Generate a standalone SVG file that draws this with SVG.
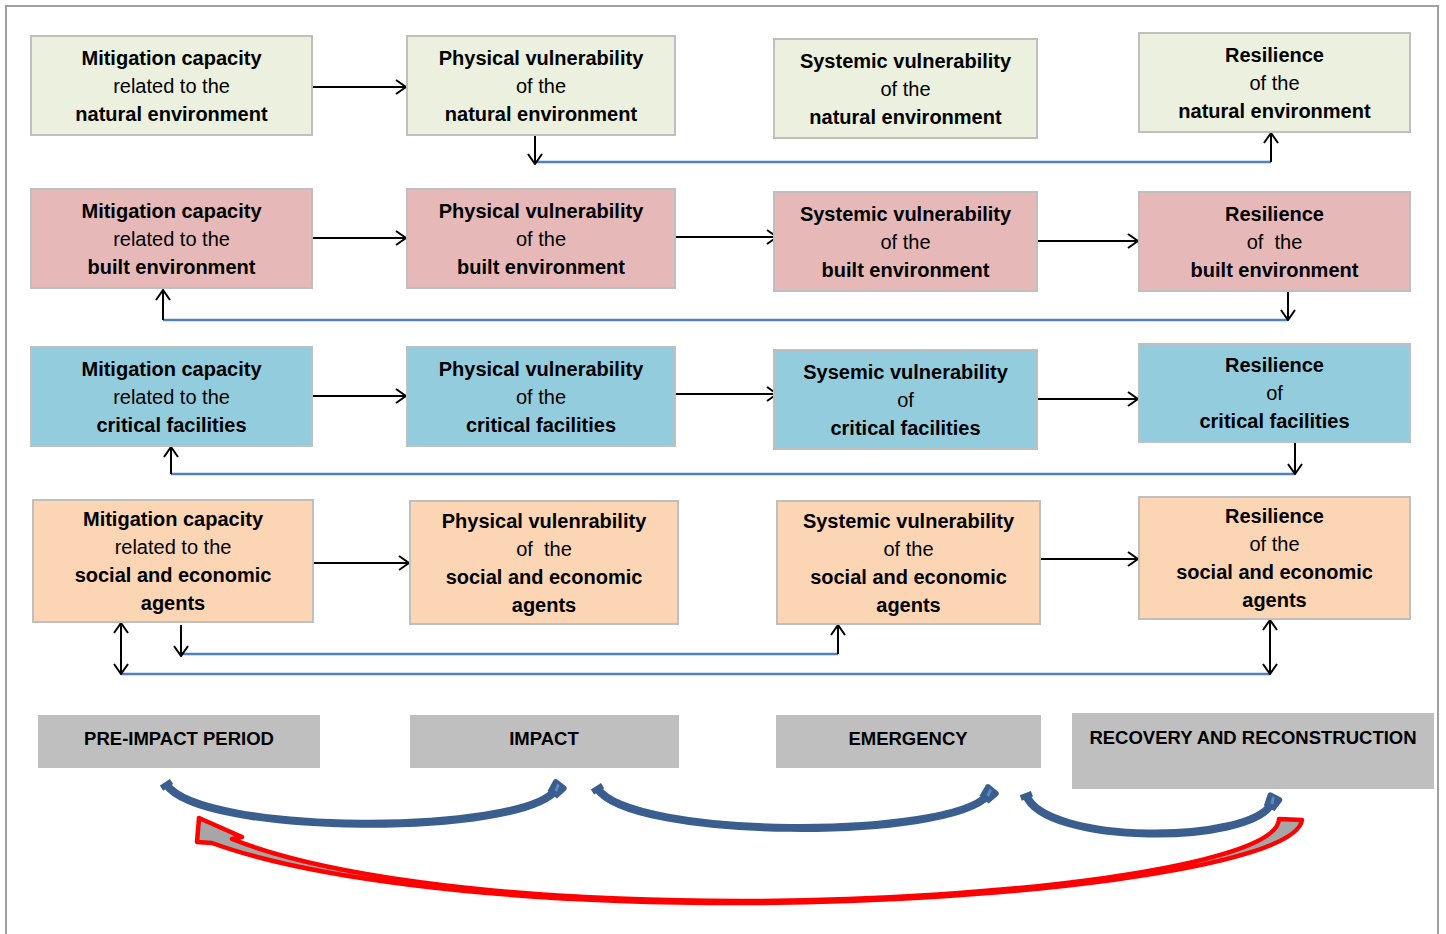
<svg xmlns="http://www.w3.org/2000/svg" width="1446" height="934" viewBox="0 0 1446 934">
<style>
.b{stroke:#BFBFBF;stroke-width:2}
.g{fill:#EBF1DE}.p{fill:#E6B9B8}.c{fill:#93CDDD}.o{fill:#FCD5B5}
.ph{fill:#BFBFBF}
text{font-family:"Liberation Sans",Arial,sans-serif;font-size:20px;fill:#000;text-anchor:middle}
.bd{font-weight:bold}
.pt{font-weight:bold;font-size:18.5px}
.ar{fill:none;stroke:#000;stroke-width:2;marker-end:url(#ah)}
.da{fill:none;stroke:#000;stroke-width:2;marker-end:url(#ah);marker-start:url(#ah)}
.bl{fill:none;stroke:#4F81BD;stroke-width:2.5}
.cv{fill:none;stroke:#3A5F8E;stroke-width:8;marker-end:url(#blk);marker-start:url(#bst)}
</style>
<defs>
<marker id="ah" viewBox="0 0 12 16" refX="11" refY="8" markerWidth="12" markerHeight="16" markerUnits="userSpaceOnUse" orient="auto-start-reverse">
<path d="M1,1 L11,8 L1,15" fill="none" stroke="#000" stroke-width="2"/>
</marker>
<marker id="blk" viewBox="-10 -10 20 20" refX="0" refY="0" markerWidth="20" markerHeight="20" markerUnits="userSpaceOnUse" orient="auto">
<path d="M-6,-6 L6,-8 Q9,-8 9,-5 L9,5 Q9,8 6,8 L-6,6 Z" fill="#3A5F8E"/>
<path d="M-1,-1 L6,-3 L6,0 L-1,2 Z" fill="#5A8AC6"/>
</marker>
<marker id="bst" viewBox="-10 -10 20 20" refX="0" refY="0" markerWidth="20" markerHeight="20" markerUnits="userSpaceOnUse" orient="auto">
<path d="M-2,-6 L4,-6 L4,6 L-2,6 Z" fill="#3A5F8E"/>
</marker>
</defs>
<rect width="1446" height="934" fill="#fff"/>
<path d="M6,940 V6 H1438 V940" fill="none" stroke="#A0A0A0" stroke-width="2"/>

<g id="connectors">
<path class="bl" d="M535,162 H1271"/>
<path class="bl" d="M163,320 H1288"/>
<path class="bl" d="M171,474 H1295"/>
<path class="bl" d="M181,654 H838"/>
<path class="bl" d="M121,674 H1270"/>
<path class="ar" d="M312,87 H406"/>
<path class="ar" d="M312,238 H406"/>
<path class="ar" d="M675,237 H777"/>
<path class="ar" d="M1037,241 H1138"/>
<path class="ar" d="M312,396 H406"/>
<path class="ar" d="M675,394 H777"/>
<path class="ar" d="M1037,399 H1138"/>
<path class="ar" d="M313,563 H409"/>
<path class="ar" d="M1040,559 H1138"/>
<path class="ar" d="M535,136 V164"/>
<path class="ar" d="M1271,162 V133"/>
<path class="ar" d="M163,320 V290"/>
<path class="ar" d="M1288,292 V320"/>
<path class="ar" d="M171,474 V447"/>
<path class="ar" d="M1295,443 V474"/>
<path class="ar" d="M181,625 V656"/>
<path class="ar" d="M838,654 V625"/>
<path class="da" d="M121,623 V674"/>
<path class="da" d="M1270,620 V674"/>
</g>

<g id="n-a1"><rect class="g b" x="31" y="36" width="281" height="99"/>
<text class="bd" x="171.5" y="64.5">Mitigation capacity</text><text x="171.5" y="92.5">related to the</text><text class="bd" x="171.5" y="120.5">natural environment</text></g>
<g id="n-b1"><rect class="g b" x="407" y="36" width="268" height="99"/>
<text class="bd" x="541" y="64.5">Physical vulnerability</text><text x="541" y="92.5">of the</text><text class="bd" x="541" y="120.5">natural environment</text></g>
<g id="n-c1"><rect class="g b" x="774" y="39" width="263" height="99"/>
<text class="bd" x="905.5" y="67.5">Systemic vulnerability</text><text x="905.5" y="95.5">of the</text><text class="bd" x="905.5" y="123.5">natural environment</text></g>
<g id="n-d1"><rect class="g b" x="1139" y="33" width="271" height="99"/>
<text class="bd" x="1274.5" y="61.5">Resilience</text><text x="1274.5" y="89.5">of the</text><text class="bd" x="1274.5" y="117.5">natural environment</text></g>

<g id="n-a2"><rect class="p b" x="31" y="189" width="281" height="99"/>
<text class="bd" x="171.5" y="217.5">Mitigation capacity</text><text x="171.5" y="245.5">related to the</text><text class="bd" x="171.5" y="273.5">built environment</text></g>
<g id="n-b2"><rect class="p b" x="407" y="189" width="268" height="99"/>
<text class="bd" x="541" y="217.5">Physical vulnerability</text><text x="541" y="245.5">of the</text><text class="bd" x="541" y="273.5">built environment</text></g>
<g id="n-c2"><rect class="p b" x="774" y="192" width="263" height="99"/>
<text class="bd" x="905.5" y="220.5">Systemic vulnerability</text><text x="905.5" y="248.5">of the</text><text class="bd" x="905.5" y="276.5">built environment</text></g>
<g id="n-d2"><rect class="p b" x="1139" y="192" width="271" height="99"/>
<text class="bd" x="1274.5" y="220.5">Resilience</text><text x="1274.5" y="248.5" xml:space="preserve">of  the</text><text class="bd" x="1274.5" y="276.5">built environment</text></g>

<g id="n-a3"><rect class="c b" x="31" y="347" width="281" height="99"/>
<text class="bd" x="171.5" y="375.5">Mitigation capacity</text><text x="171.5" y="403.5">related to the</text><text class="bd" x="171.5" y="431.5">critical facilities</text></g>
<g id="n-b3"><rect class="c b" x="407" y="347" width="268" height="99"/>
<text class="bd" x="541" y="375.5">Physical vulnerability</text><text x="541" y="403.5">of the</text><text class="bd" x="541" y="431.5">critical facilities</text></g>
<g id="n-c3"><rect class="c b" x="774" y="350" width="263" height="99"/>
<text class="bd" x="905.5" y="378.5">Sysemic vulnerability</text><text x="905.5" y="406.5">of</text><text class="bd" x="905.5" y="434.5">critical facilities</text></g>
<g id="n-d3"><rect class="c b" x="1139" y="344" width="271" height="98"/>
<text class="bd" x="1274.5" y="372">Resilience</text><text x="1274.5" y="400">of</text><text class="bd" x="1274.5" y="428">critical facilities</text></g>

<g id="n-a4"><rect class="o b" x="33" y="500" width="280" height="122"/>
<text class="bd" x="173" y="526">Mitigation capacity</text><text x="173" y="554">related to the</text><text class="bd" x="173" y="582">social and economic</text><text class="bd" x="173" y="610">agents</text></g>
<g id="n-b4"><rect class="o b" x="410" y="501" width="268" height="123"/>
<text class="bd" x="544" y="528">Physical vulenrability</text><text x="544" y="556" xml:space="preserve">of  the</text><text class="bd" x="544" y="584">social and economic</text><text class="bd" x="544" y="612">agents</text></g>
<g id="n-c4"><rect class="o b" x="777" y="501" width="263" height="123"/>
<text class="bd" x="908.5" y="528">Systemic vulnerability</text><text x="908.5" y="556">of the</text><text class="bd" x="908.5" y="584">social and economic</text><text class="bd" x="908.5" y="612">agents</text></g>
<g id="n-d4"><rect class="o b" x="1139" y="497" width="271" height="122"/>
<text class="bd" x="1274.5" y="523">Resilience</text><text x="1274.5" y="551">of the</text><text class="bd" x="1274.5" y="579">social and economic</text><text class="bd" x="1274.5" y="607">agents</text></g>

<g id="phase-pre"><rect class="ph" x="38" y="715" width="282" height="53"/><text class="pt" x="179" y="745">PRE-IMPACT PERIOD</text></g>
<g id="phase-impact"><rect class="ph" x="410" y="715" width="269" height="53"/><text class="pt" x="544" y="745">IMPACT</text></g>
<g id="phase-emergency"><rect class="ph" x="776" y="715" width="265" height="53"/><text class="pt" x="908" y="745">EMERGENCY</text></g>
<g id="phase-recovery"><rect class="ph" x="1072" y="713" width="362" height="76"/><text class="pt" x="1253" y="744">RECOVERY AND RECONSTRUCTION</text></g>

<g id="cycle">
<path class="cv" d="M166,784 C200,836 520,836 556,790"/>
<path class="cv" d="M597,788 C630,840 950,840 988,795"/>
<path class="cv" d="M1026,795 C1045,845 1250,845 1272,803"/>
<path d="M1302,820 C1295,868 1000,903 740,903 C480,903 300,875 212,843 L197,842 L199,818 L242,837 L232,839 C312,871 480,901 740,901 C1000,901 1278,866 1279,819 Z" fill="#A6A6A6" stroke="#FF0000" stroke-width="4.5" stroke-linejoin="round"/>
</g>
</svg>
